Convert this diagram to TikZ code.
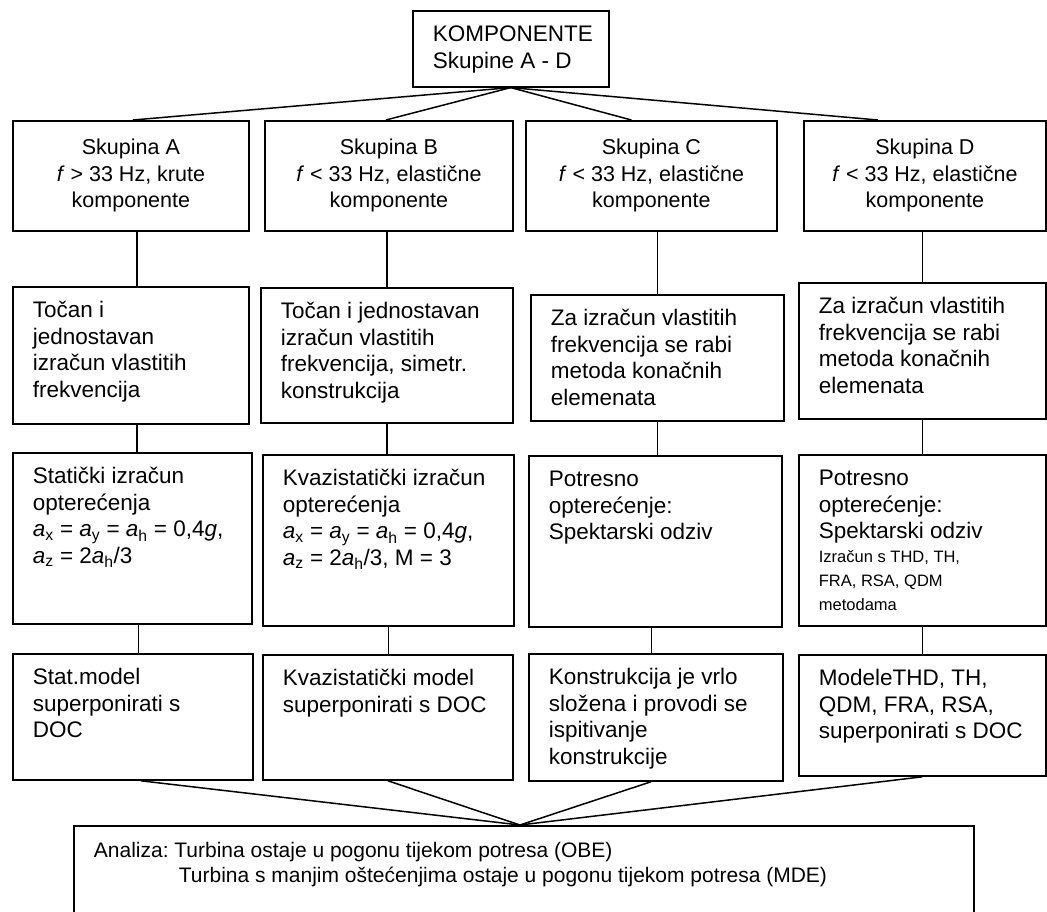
\documentclass[tikz,border=0pt]{standalone}
\usepackage{fontspec}
\setmainfont{Liberation Sans}

\newcommand{\celltext}[3]{\parbox[c][#2pt][t]{#1pt}{\frenchspacing\leftskip=20pt\rightskip=0pt plus 1fil\rule{0pt}{31pt}#3}}
\newcommand{\headtext}[3]{\parbox[c][#2pt][c]{#1pt}{\frenchspacing\centering #3}}
\newcommand{\accsub}[1]{\textit{a}\textsubscript{#1}}
\newcommand{\smalltxt}{\fontsize{16.5}{24}\selectfont}

\begin{document}
\begin{tikzpicture}[
        x=1pt, y=-1pt,
        font=\fontsize{22.5}{26.5}\selectfont,
        box/.style={rectangle, draw=black, line width=1.8pt, anchor=north west, inner sep=0pt},
        headbox/.style={box, font=\fontsize{21.5}{26.5}\selectfont},
        conn/.style={line width=1.5pt},
    ]
    \useasboundingbox (0,0) rectangle (1047,912);
    \fill[white] (0,0) rectangle (1047,912);
    \clip (0,0) rectangle (1047,912);

    \node[box, line width=1.6pt] (top) at (412,10) {\celltext{196}{76}{KOMPONENTE\\Skupine A - D}};

    \node[headbox] (A1) at (12,120) {\headtext{236}{110}{Skupina A\\\textit{f} > 33 Hz, krute\\komponente}};
    \node[headbox] (B1) at (264,120) {\headtext{248}{110}{Skupina B\\\textit{f} < 33 Hz, elastične\\komponente}};
    \node[headbox] (C1) at (525,120) {\headtext{251}{110}{Skupina C\\\textit{f} < 33 Hz, elastične\\komponente}};
    \node[headbox] (D1) at (803,120) {\headtext{242}{110}{Skupina D\\\textit{f} < 33 Hz, elastične\\komponente}};

    \node[box] (A2) at (12,286) {\celltext{236}{137}{Točan i\\jednostavan\\izračun vlastitih\\frekvencija}};
    \node[box] (B2) at (260,287) {\celltext{252}{135}{Točan i jednostavan\\izračun vlastitih\\frekvencija, simetr.\\konstrukcija}};
    \node[box] (C2) at (530,294) {\celltext{253}{126}{Za izračun vlastitih\\frekvencija se rabi\\metoda konačnih\\elemenata}};
    \node[box] (D2) at (798,282) {\celltext{247}{136}{Za izračun vlastitih\\frekvencija se rabi\\metoda konačnih\\elemenata}};

    \node[box] (A3) at (12,452) {\celltext{239}{171}{Statički izračun\\opterećenja\\\accsub{x} = \accsub{y} = \accsub{h} = 0,4\textit{g},\\\accsub{z} = 2\accsub{h}/3}};
    \node[box] (B3) at (262,454) {\celltext{251}{171}{Kvazistatički izračun\\opterećenja\\\accsub{x} = \accsub{y} = \accsub{h} = 0,4\textit{g},\\\accsub{z} = 2\accsub{h}/3, M = 3}};
    \node[box] (C3) at (528,455) {\celltext{253}{171}{Potresno\\opterećenje:\\Spektarski odziv}};
    \node[box] (D3) at (798,454) {\celltext{247}{171}{Potresno\\opterećenje:\\Spektarski odziv\par{\smalltxt Izračun s THD, TH,\\FRA, RSA, QDM\\metodama\par}}};

    \node[box] (A4) at (12,653) {\celltext{240}{126}{Stat.model\\superponirati s\\DOC}};
    \node[box] (B4) at (262,654) {\celltext{250}{125}{Kvazistatički model\\superponirati s DOC}};
    \node[box] (C4) at (528,653) {\celltext{254}{127}{Konstrukcija je vrlo\\složena i provodi se\\ispitivanje\\konstrukcije}};
    \node[box] (D4) at (798,654) {\celltext{247}{121}{ModeleTHD, TH,\\QDM, FRA, RSA,\\superponirati s DOC}};

    \node[box] (bot) at (73,825) {\parbox[c][100pt][t]{900pt}{\fontsize{21}{25}\selectfont\frenchspacing\leftskip=20pt\rightskip=0pt plus 1fil\rule{0pt}{32pt}Analiza: Turbina ostaje u pogonu tijekom potresa (OBE)\\\hspace*{85pt}Turbina s manjim oštećenjima ostaje u pogonu tijekom potresa (MDE)}};

    \draw[conn] (top.south) -- ([xshift=2]A1.north);
    \draw[conn] (top.south) -- ([xshift=-3]B1.north);
    \draw[conn] (top.south) -- ([xshift=-20]C1.north);
    \draw[conn] (top.south) -- ([xshift=-47]D1.north);

    \draw[conn] ([xshift=6]A2.north |- A1.south) -- ([xshift=6]A2.north);
    \draw[conn] ([xshift=6]A2.south) -- ([xshift=6]A2.south |- A3.north);
    \draw[conn] ([xshift=6]A3.south) -- ([xshift=6]A3.south |- A4.north);
    \draw[conn] (B2.north |- B1.south) -- (B2.north);
    \draw[conn] (B2.south) -- (B2.south |- B3.north);
    \draw[conn] (B3.south) -- (B3.south |- B4.north);
    \draw[conn] (C2.north |- C1.south) -- (C2.north);
    \draw[conn] (C2.south) -- (C2.south |- C3.north);
    \draw[conn] ([xshift=-4]C3.south) -- ([xshift=-4]C3.south |- C4.north);
    \draw[conn] (D2.north |- D1.south) -- (D2.north);
    \draw[conn] (D2.south) -- (D2.south |- D3.north);
    \draw[conn] (D3.south) -- (D3.south |- D4.north);

    \draw[conn] ([xshift=8]A4.south) -- ([xshift=-4]bot.north);
    \draw[conn] (B4.south) -- ([xshift=-4]bot.north);
    \draw[conn] ([xshift=-5]C4.south) -- ([xshift=-4]bot.north);
    \draw[conn] (D4.south) -- ([xshift=-4]bot.north);
\end{tikzpicture}
\end{document}
